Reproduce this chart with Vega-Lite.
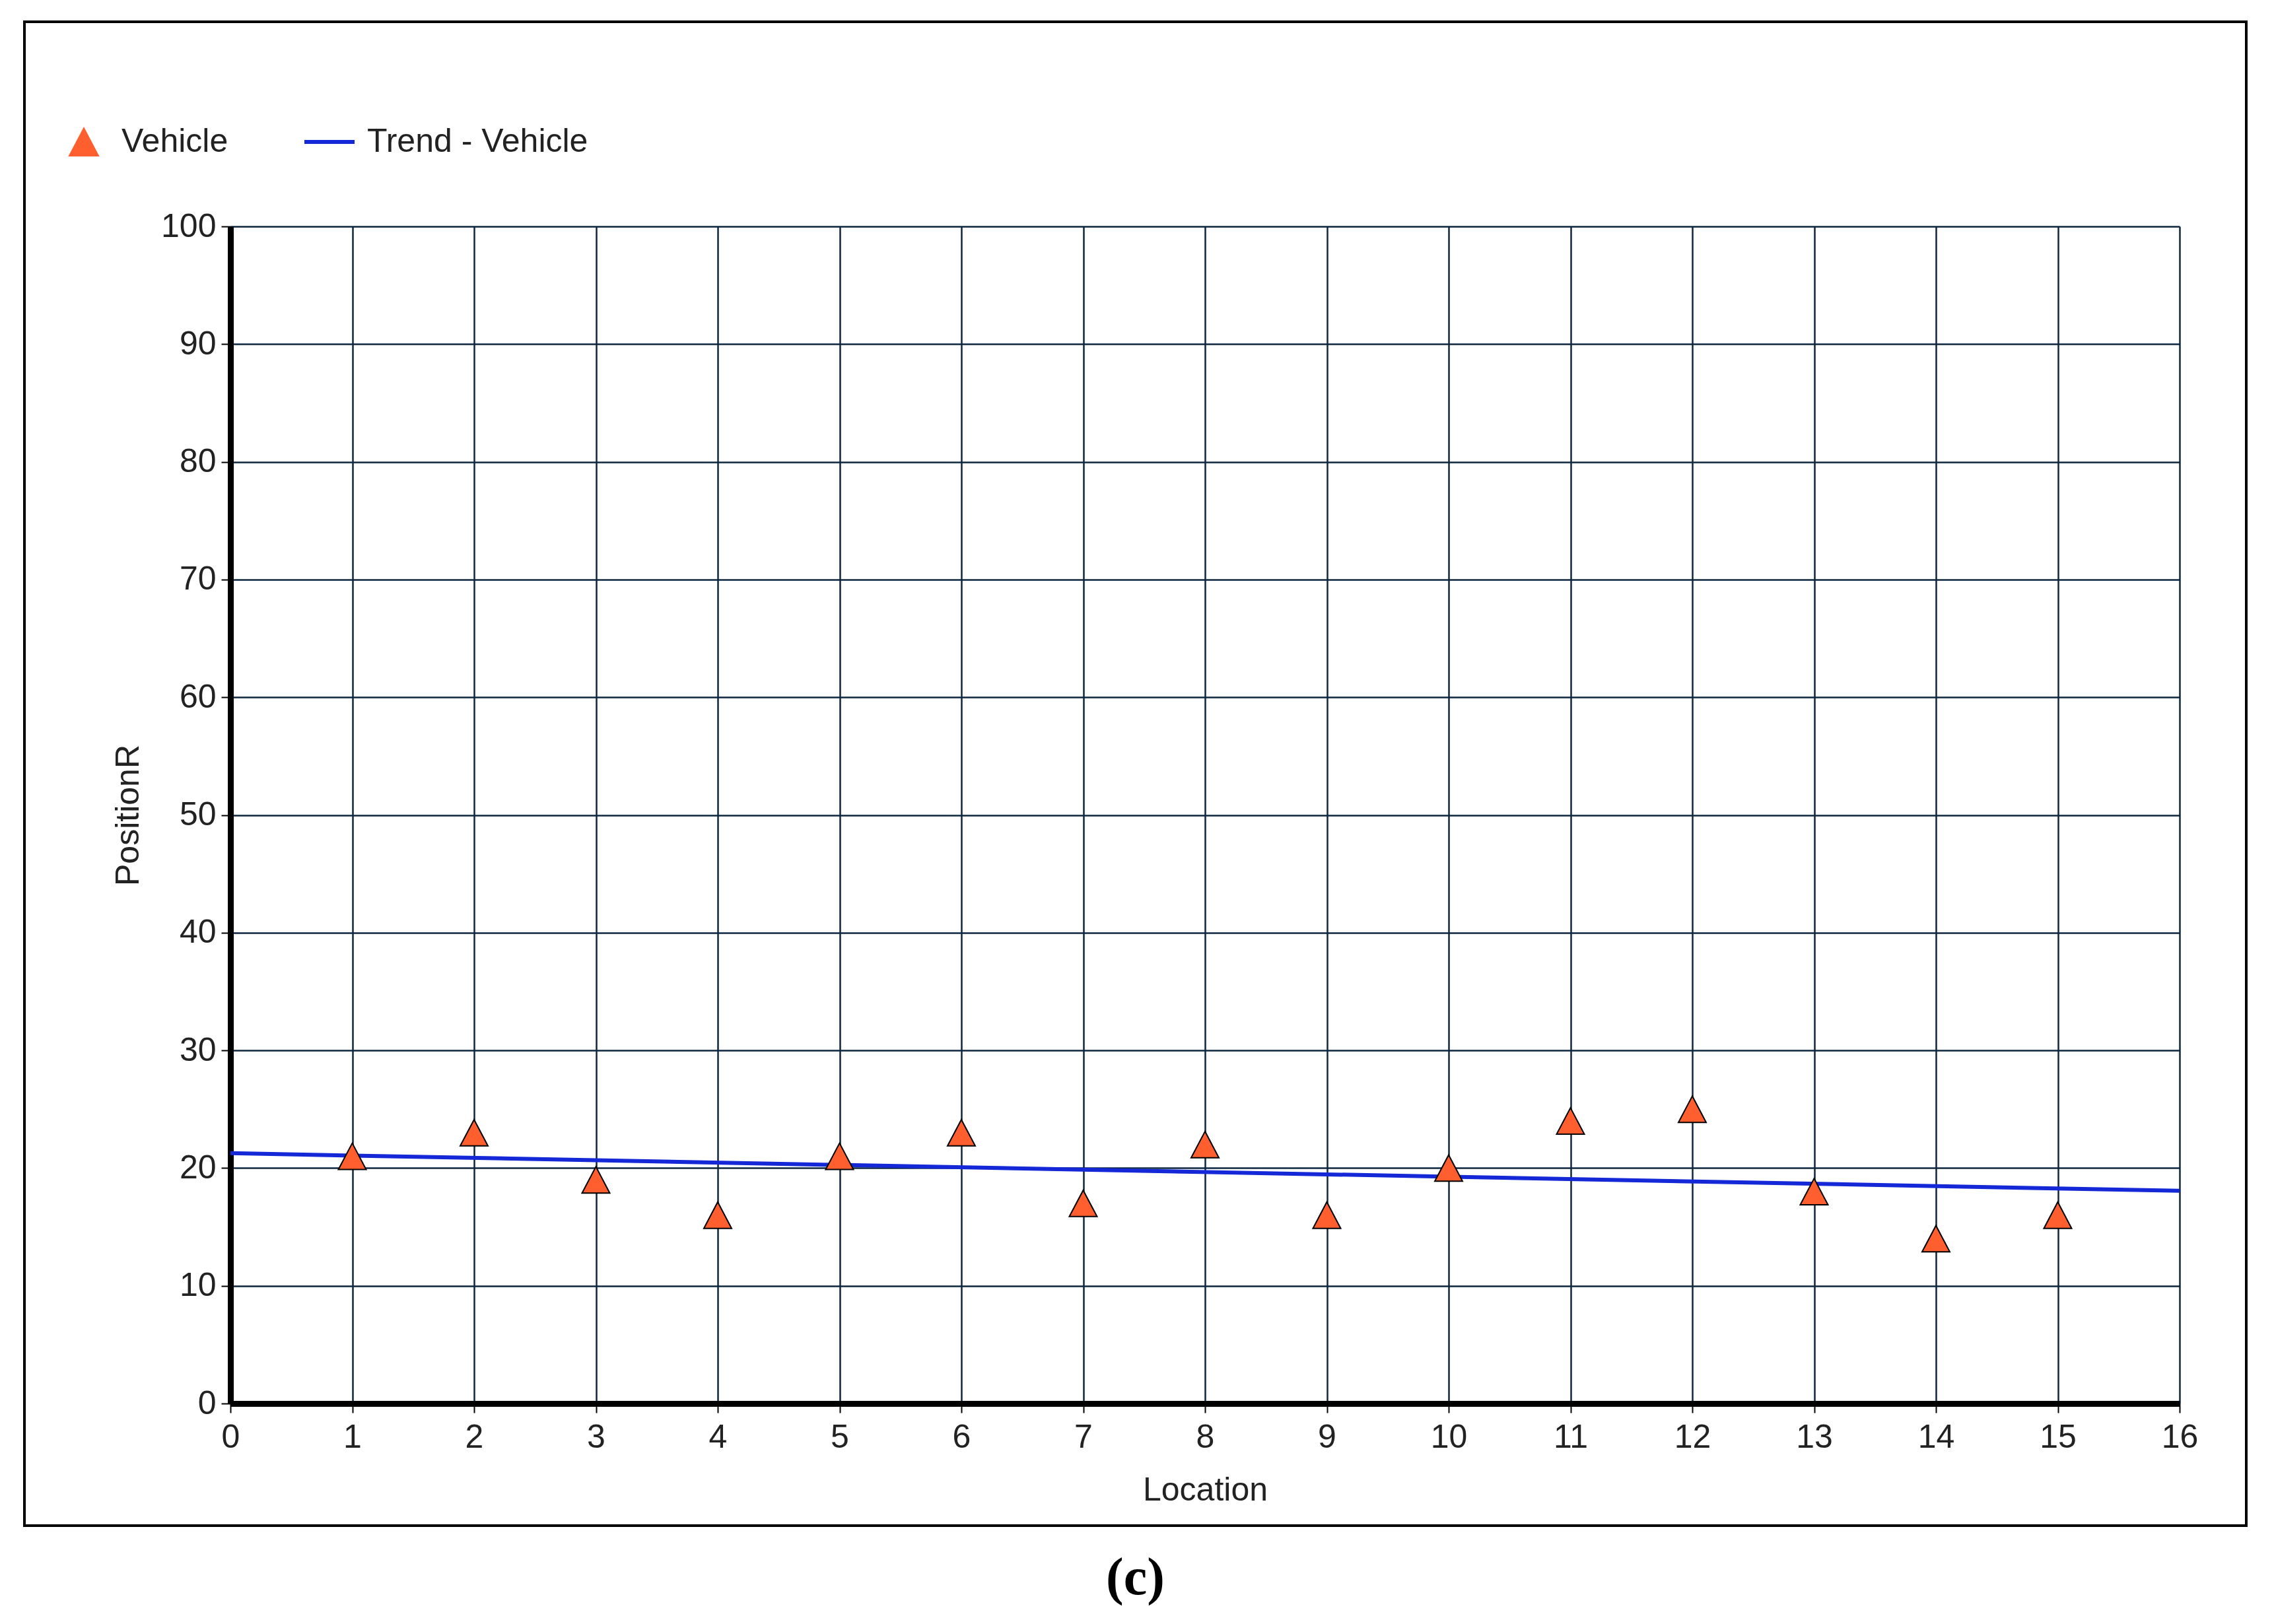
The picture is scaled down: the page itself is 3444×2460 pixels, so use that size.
{
  "$schema": "https://vega.github.io/schema/vega-lite/v6.json",
  "autosize": {"type": "none"},
  "padding": {"left": 37, "top": 33, "right": 42, "bottom": 149},
  "width": 3365,
  "height": 2278,
  "background": "white",
  "config": {
    "view": {"stroke": "black", "strokeWidth": 4, "fill": "white"},
    "font": "Liberation Sans"
  },
  "title": {
    "text": "(c)",
    "orient": "bottom",
    "anchor": "middle",
    "font": "Liberation Serif",
    "fontSize": 80,
    "fontWeight": "bold",
    "color": "black",
    "offset": 41
  },
  "data": {
    "values": [
      {"Location": 1, "PositionR": 21},
      {"Location": 2, "PositionR": 23},
      {"Location": 3, "PositionR": 19},
      {"Location": 4, "PositionR": 16},
      {"Location": 5, "PositionR": 21},
      {"Location": 6, "PositionR": 23},
      {"Location": 7, "PositionR": 17},
      {"Location": 8, "PositionR": 22},
      {"Location": 9, "PositionR": 16},
      {"Location": 10, "PositionR": 20},
      {"Location": 11, "PositionR": 24},
      {"Location": 12, "PositionR": 25},
      {"Location": 13, "PositionR": 18},
      {"Location": 14, "PositionR": 14},
      {"Location": 15, "PositionR": 16}
    ]
  },
  "resolve": {"axis": {"x": "independent"}},
  "layer": [
    {
      "transform": [
        {"regression": "PositionR", "on": "Location", "extent": [0, 16]}
      ],
      "mark": {"type": "line", "strokeWidth": 6, "clip": false},
      "encoding": {
        "x": {
          "field": "Location",
          "type": "quantitative",
          "scale": {"domain": [0, 16], "range": [312, 3264], "nice": false, "zero": false},
          "axis": {
            "orient": "top",
            "values": [0,1,2,3,4,5,6,7,8,9,10,11,12,13,14,15,16],
            "grid": true,
            "gridColor": "#0d2640",
            "gridWidth": 2.5,
            "gridOpacity": 1,
            "domain": false,
            "ticks": false,
            "labels": false,
            "title": null
          }
        },
        "y": {
          "field": "PositionR",
          "type": "quantitative",
          "scale": {"domain": [0, 100], "range": [2093, 310], "nice": false, "zero": false},
          "axis": {
            "values": [0,10,20,30,40,50,60,70,80,90,100],
            "offset": -312,
            "grid": true,
            "gridColor": "#0d2640",
            "gridWidth": 2.5,
            "gridOpacity": 1,
            "domainColor": "black",
            "domainWidth": 9,
            "tickColor": "black",
            "tickWidth": 2,
            "tickSize": 14,
            "labelFont": "Liberation Sans",
            "labelFontSize": 50,
            "labelColor": "#222222",
            "labelPadding": 8,
            "labelFlush": false,
            "labelOverlap": false,
            "title": "PositionR",
            "titleFont": "Liberation Sans",
            "titleFontSize": 50,
            "titleFontWeight": "normal",
            "titleColor": "#222222",
            "titlePadding": 24
          }
        },
        "color": {
          "datum": "Trend - Vehicle",
          "type": "nominal",
          "scale": {"domain": ["Vehicle", "Trend - Vehicle"], "range": ["#ff5f2e", "#1428d8"]},
          "legend": {
            "orient": "none",
            "legendX": 65,
            "legendY": 157,
            "direction": "horizontal",
            "title": null,
            "symbolSize": 5776,
            "labelFont": "Liberation Sans",
            "labelFontSize": 50,
            "labelColor": "#222222",
            "labelOffset": 32,
            "labelLimit": 2000,
            "columnPadding": 103,
            "padding": 0,
            "encode": {
              "symbols": {
                "update": {
                  "shape": {"signal": "datum.value === 'Vehicle' ? 'M0,-0.95L1,0.95L-1,0.95Z' : 'stroke'"},
                  "size": {"signal": "datum.value === 'Vehicle' ? 1936 : 5776"},
                  "fill": {"signal": "datum.value === 'Vehicle' ? '#ff5f2e' : 'transparent'"},
                  "stroke": {"signal": "datum.value === 'Vehicle' ? '#000000' : '#2020b0'"},
                  "strokeWidth": {"signal": "datum.value === 'Vehicle' ? 2 : 6"},
                  "opacity": {"value": 1}
                }
              }
            }
          }
        }
      }
    },
    {
      "mark": {
        "type": "point",
        "filled": true,
        "shape": "M0,-0.95L1,0.95L-1,0.95Z",
        "size": 1764,
        "stroke": "black",
        "strokeWidth": 2,
        "opacity": 1
      },
      "encoding": {
        "x": {
          "field": "Location",
          "type": "quantitative",
          "axis": {
            "orient": "bottom",
            "values": [0,1,2,3,4,5,6,7,8,9,10,11,12,13,14,15,16],
            "offset": -185,
            "grid": false,
            "domainColor": "black",
            "domainWidth": 9,
            "tickColor": "black",
            "tickWidth": 2,
            "tickSize": 14,
            "labelFont": "Liberation Sans",
            "labelFontSize": 50,
            "labelColor": "#222222",
            "labelPadding": 12,
            "labelFlush": false,
            "labelOverlap": false,
            "title": "Location",
            "titleFont": "Liberation Sans",
            "titleFontSize": 50,
            "titleFontWeight": "normal",
            "titleColor": "#222222",
            "titlePadding": 30
          }
        },
        "y": {"field": "PositionR", "type": "quantitative"},
        "color": {
          "datum": "Vehicle",
          "type": "nominal",
          "legend": {
            "orient": "none",
            "legendX": 65,
            "legendY": 157,
            "direction": "horizontal",
            "title": null,
            "symbolSize": 5776,
            "labelFont": "Liberation Sans",
            "labelFontSize": 50,
            "labelColor": "#222222",
            "labelOffset": 32,
            "labelLimit": 2000,
            "columnPadding": 103,
            "padding": 0,
            "encode": {
              "symbols": {
                "update": {
                  "shape": {"signal": "datum.value === 'Vehicle' ? 'M0,-0.95L1,0.95L-1,0.95Z' : 'stroke'"},
                  "size": {"signal": "datum.value === 'Vehicle' ? 1936 : 5776"},
                  "fill": {"signal": "datum.value === 'Vehicle' ? '#ff5f2e' : 'transparent'"},
                  "stroke": {"signal": "datum.value === 'Vehicle' ? '#000000' : '#2020b0'"},
                  "strokeWidth": {"signal": "datum.value === 'Vehicle' ? 2 : 6"},
                  "opacity": {"value": 1}
                }
              }
            }
          }
        }
      }
    }
  ]
}
